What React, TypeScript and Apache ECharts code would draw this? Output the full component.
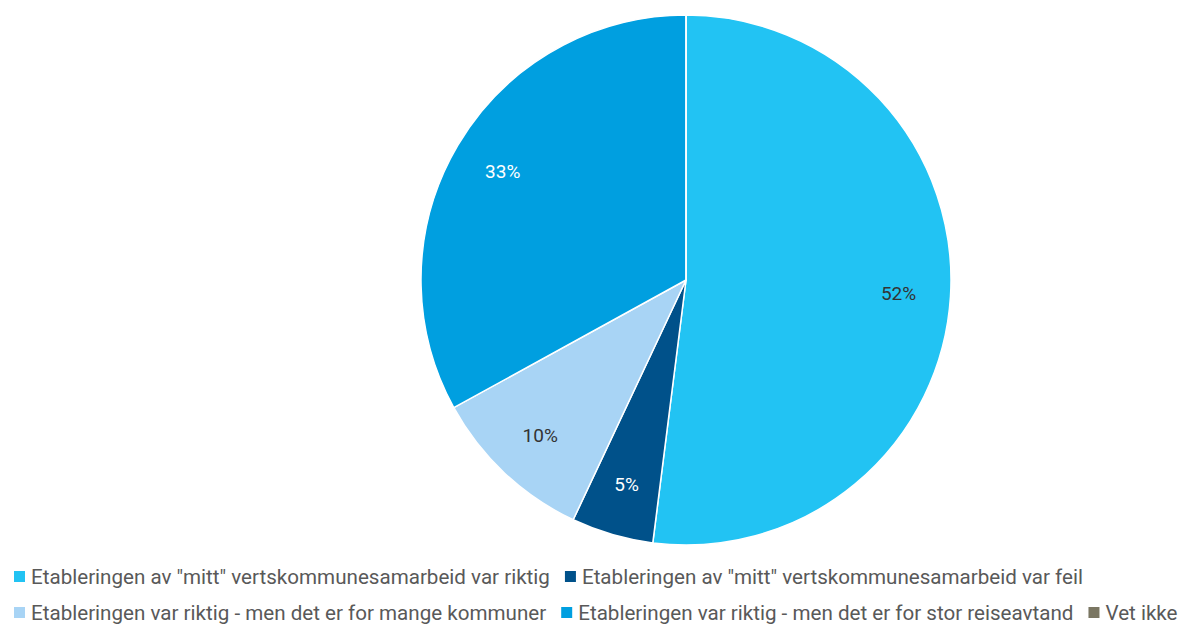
import React, { useEffect, useRef } from "react";
import * as echarts from "echarts";

const categories = [
  'Etableringen av "mitt" vertskommunesamarbeid var riktig',
  'Etableringen av "mitt" vertskommunesamarbeid var feil',
  "Etableringen var riktig - men det er for mange kommuner",
  "Etableringen var riktig - men det er for stor reiseavtand",
  "Vet ikke",
];
const values = [52, 5, 10, 33, 0];
const colors = ["#22C3F3", "#00518A", "#A8D4F5", "#009FE0", "#7A7662"];
const labelColors = ["#333333", "#ffffff", "#333333", "#ffffff", "#333333"];

export default function App() {
  const ref = useRef<HTMLDivElement>(null);
  useEffect(() => {
    document.body.style.margin = "0";
    const chart = echarts.init(ref.current!, null, { renderer: "svg" });
    const font = "Roboto";
    const mainData = categories.map((name, i) => ({
      name,
      value: values[i],
      itemStyle: { color: colors[i] },
    }));
    const labelData = categories.map((name, i) => ({
      name,
      value: values[i],
      itemStyle: { color: "rgba(0,0,0,0)", borderWidth: 0 },
      label: {
        show: values[i] > 0,
        color: labelColors[i],
      },
    }));
    const legendCommon = {
      orient: "horizontal" as const,
      left: 12,
      icon: "rect",
      itemWidth: 13,
      itemHeight: 13,
      itemGap: 13,
      padding: 0,
      textStyle: { fontFamily: font, fontSize: 20.6, color: "#595959" },
      selectedMode: false,
    };
    chart.setOption({
      animation: false,
      legend: [
        { ...legendCommon, top: 566, data: categories.slice(0, 2) },
        { ...legendCommon, top: 602, data: categories.slice(2) },
      ],
      series: [
        {
          type: "pie",
          center: [686, 280],
          radius: [0, 265],
          startAngle: 90,
          clockwise: true,
          label: { show: false },
          labelLine: { show: false },
          itemStyle: { borderColor: "#ffffff", borderWidth: 1.5 },
          emphasis: { disabled: true },
          data: mainData,
        },
        {
          type: "pie",
          center: [686, 280],
          radius: [0, 420],
          startAngle: 90,
          clockwise: true,
          silent: true,
          legendHoverLink: false,
          avoidLabelOverlap: false,
          labelLine: { show: false },
          label: {
            position: "inside",
            formatter: "{c}%",
            fontFamily: font,
            fontSize: 19,
          },
          emphasis: { disabled: true },
          data: labelData,
        },
      ],
    });
    return () => chart.dispose();
  }, []);
  return <div ref={ref} style={{ width: 1180, height: 624 }} />;
}
